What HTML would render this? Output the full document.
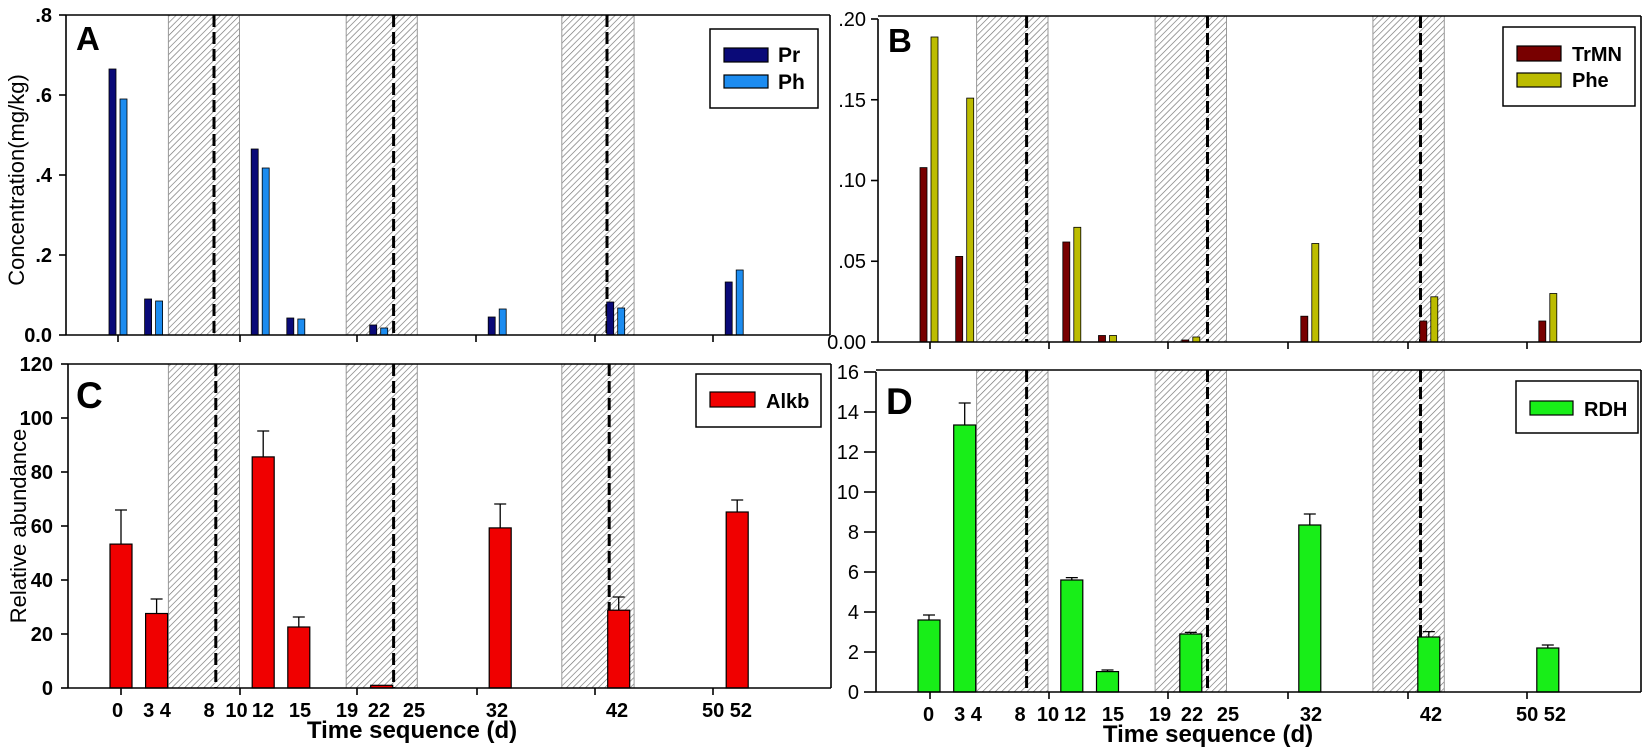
<!DOCTYPE html>
<html><head><meta charset="utf-8"><style>
body{margin:0;background:#fff;}
svg{display:block;font-family:"Liberation Sans",Arial,sans-serif;}
.b{font-weight:bold;}
</style></head><body>
<svg width="1650" height="749" viewBox="0 0 1650 749" xmlns="http://www.w3.org/2000/svg">
<defs>
<pattern id="h" patternUnits="userSpaceOnUse" width="4.5" height="4.5" patternTransform="rotate(45)">
<line x1="0" y1="0" x2="0" y2="4.5" stroke="#707070" stroke-width="1.3"/>
</pattern>
</defs>
<rect width="1650" height="749" fill="#fff"/>

<!-- ============ PANEL A ============ -->
<g>
<rect x="168.4" y="15" width="71.1" height="320" fill="url(#h)" stroke="#999" stroke-width="1"/>
<rect x="346.2" y="15" width="71.1" height="320" fill="url(#h)" stroke="#999" stroke-width="1"/>
<rect x="561.8" y="15" width="72.3" height="320" fill="url(#h)" stroke="#999" stroke-width="1"/>
<g stroke="#000" stroke-width="3" stroke-dasharray="12,5">
<line x1="214" y1="15" x2="214" y2="335"/><line x1="393.6" y1="15" x2="393.6" y2="335"/><line x1="607" y1="15" x2="607" y2="335"/>
</g>
<g stroke="#000" stroke-width="0.8">
<g fill="#0a0a78">
<rect x="109" y="69" width="7" height="266"/><rect x="144.6" y="299" width="7" height="36"/>
<rect x="251.2" y="149" width="7" height="186"/><rect x="286.8" y="318" width="7" height="17"/>
<rect x="369.7" y="325" width="7" height="10"/><rect x="488.2" y="317" width="7" height="18"/>
<rect x="606.7" y="302" width="7" height="33"/><rect x="725.2" y="282" width="7" height="53"/>
</g>
<g fill="#1c8cf0">
<rect x="120" y="99" width="7" height="236"/><rect x="155.6" y="301" width="7" height="34"/>
<rect x="262.2" y="168" width="7" height="167"/><rect x="297.8" y="319" width="7" height="16"/>
<rect x="380.7" y="328" width="7" height="7"/><rect x="499.2" y="309" width="7" height="26"/>
<rect x="617.7" y="308" width="7" height="27"/><rect x="736.2" y="270" width="7" height="65"/>
</g>
</g>
<g stroke="#000" stroke-width="1.6" fill="none">
<line x1="66" y1="15" x2="830" y2="15"/><line x1="830" y1="15" x2="830" y2="335"/>
<line x1="66" y1="15" x2="66" y2="335"/><line x1="66" y1="335" x2="830" y2="335"/>
<line x1="59" y1="15" x2="66" y2="15"/><line x1="59" y1="95" x2="66" y2="95"/><line x1="59" y1="175" x2="66" y2="175"/><line x1="59" y1="255" x2="66" y2="255"/><line x1="59" y1="335" x2="66" y2="335"/>
<line x1="118" y1="335" x2="118" y2="342"/><line x1="240" y1="335" x2="240" y2="342"/><line x1="357" y1="335" x2="357" y2="342"/><line x1="476" y1="335" x2="476" y2="342"/><line x1="595" y1="335" x2="595" y2="342"/><line x1="713" y1="335" x2="713" y2="342"/>
</g>
<g class="b" font-size="20" text-anchor="end">
<text x="52" y="22">.8</text><text x="52" y="102">.6</text><text x="52" y="182">.4</text><text x="52" y="262">.2</text><text x="52" y="342">0.0</text>
</g>
<text x="18" y="180" font-size="22" text-anchor="middle" transform="rotate(-90 18 180)" dominant-baseline="middle">Concentration(mg/kg)</text>
<text x="76" y="50" class="b" font-size="33">A</text>
<rect x="710" y="29" width="108" height="79" fill="#fff" stroke="#000" stroke-width="1.5"/>
<rect x="724" y="48" width="44" height="14" fill="#0a0a78" stroke="#000" stroke-width="1.2"/>
<rect x="724" y="75" width="44" height="13" fill="#1c8cf0" stroke="#000" stroke-width="1.2"/>
<text x="778" y="62" class="b" font-size="21">Pr</text>
<text x="778" y="89" class="b" font-size="21">Ph</text>
</g>

<!-- ============ PANEL B ============ -->
<g>
<rect x="976.6" y="16" width="71.4" height="326" fill="url(#h)" stroke="#999" stroke-width="1"/>
<rect x="1155.1" y="16" width="71.4" height="326" fill="url(#h)" stroke="#999" stroke-width="1"/>
<rect x="1372.9" y="16" width="71.4" height="326" fill="url(#h)" stroke="#999" stroke-width="1"/>
<g stroke="#000" stroke-width="3" stroke-dasharray="12,5">
<line x1="1026.6" y1="16" x2="1026.6" y2="342"/><line x1="1207.5" y1="16" x2="1207.5" y2="342"/><line x1="1420.5" y1="16" x2="1420.5" y2="342"/>
</g>
<g stroke="#000" stroke-width="0.8">
<g fill="#780000">
<rect x="920" y="167.6" width="7" height="174.4"/><rect x="955.7" y="256.4" width="7" height="85.6"/>
<rect x="1062.8" y="242" width="7" height="100"/><rect x="1098.5" y="335.5" width="7" height="6.5"/>
<rect x="1181.8" y="340" width="7" height="2"/><rect x="1300.8" y="316.2" width="7" height="25.8"/>
<rect x="1419.8" y="321" width="7" height="21"/><rect x="1538.8" y="321" width="7" height="21"/>
</g>
<g fill="#bcbc00">
<rect x="931" y="37" width="7" height="305"/><rect x="966.7" y="98.1" width="7" height="243.9"/>
<rect x="1073.8" y="227.3" width="7" height="114.7"/><rect x="1109.5" y="335.5" width="7" height="6.5"/>
<rect x="1192.8" y="337" width="7" height="5"/><rect x="1311.8" y="243.5" width="7" height="98.5"/>
<rect x="1430.8" y="296.8" width="7" height="45.2"/><rect x="1549.8" y="293.5" width="7" height="48.5"/>
</g>
</g>
<g stroke="#000" stroke-width="1.6" fill="none">
<line x1="878" y1="16" x2="1641" y2="16"/><line x1="1641" y1="16" x2="1641" y2="342"/>
<line x1="878" y1="19" x2="878" y2="342"/><line x1="878" y1="342" x2="1641" y2="342"/>
<line x1="871" y1="19" x2="878" y2="19"/><line x1="871" y1="99.75" x2="878" y2="99.75"/><line x1="871" y1="180.5" x2="878" y2="180.5"/><line x1="871" y1="261.25" x2="878" y2="261.25"/><line x1="871" y1="342" x2="878" y2="342"/>
<line x1="930" y1="342" x2="930" y2="349"/><line x1="1049" y1="342" x2="1049" y2="349"/><line x1="1168" y1="342" x2="1168" y2="349"/><line x1="1288" y1="342" x2="1288" y2="349"/><line x1="1408" y1="342" x2="1408" y2="349"/><line x1="1527" y1="342" x2="1527" y2="349"/>
</g>
<g font-size="20" text-anchor="end">
<text x="866" y="26">.20</text><text x="866" y="107">.15</text><text x="866" y="187">.10</text><text x="866" y="268">.05</text><text x="866" y="349">0.00</text>
</g>
<text x="888" y="52" class="b" font-size="33">B</text>
<rect x="1503" y="27" width="132" height="79" fill="#fff" stroke="#000" stroke-width="1.5"/>
<rect x="1517" y="46" width="44" height="15" fill="#780000" stroke="#000" stroke-width="1.2"/>
<rect x="1517" y="73" width="44" height="14" fill="#bcbc00" stroke="#000" stroke-width="1.2"/>
<text x="1572" y="61" class="b" font-size="20">TrMN</text>
<text x="1572" y="87" class="b" font-size="20">Phe</text>
</g>

<!-- ============ PANEL C ============ -->
<g>
<rect x="168.4" y="364" width="71.1" height="324" fill="url(#h)" stroke="#999" stroke-width="1"/>
<rect x="346.2" y="364" width="71.1" height="324" fill="url(#h)" stroke="#999" stroke-width="1"/>
<rect x="561.8" y="364" width="72.3" height="324" fill="url(#h)" stroke="#999" stroke-width="1"/>
<g stroke="#000" stroke-width="3" stroke-dasharray="12,5">
<line x1="215.8" y1="364" x2="215.8" y2="688"/><line x1="393.6" y1="364" x2="393.6" y2="688"/><line x1="609.2" y1="364" x2="609.2" y2="688"/>
</g>
<g stroke="#000" stroke-width="1.3">
<path d="M121 544V510M115 510H127M156.6 613V599M150.6 599H162.6M263.2 457V431M257.2 431H269.2M298.8 627V617M292.8 617H304.8M500.2 528V504M494.2 504H506.2M618.7 610V597M612.7 597H624.7M737.2 512V500M731.2 500H743.2" fill="none"/>
<g fill="#f00000" stroke-width="1.2">
<rect x="110" y="544.1" width="22" height="143.9"/><rect x="145.6" y="613.5" width="22" height="74.5"/>
<rect x="252.2" y="456.9" width="22" height="231.1"/><rect x="287.8" y="627" width="22" height="61"/>
<rect x="370.7" y="685.3" width="22" height="2.7"/><rect x="489.2" y="527.9" width="22" height="160.1"/>
<rect x="607.7" y="610.2" width="22" height="77.8"/><rect x="726.2" y="512" width="22" height="176"/>
</g>
</g>
<g stroke="#000" stroke-width="1.6" fill="none">
<line x1="68" y1="364" x2="831" y2="364"/><line x1="831" y1="364" x2="831" y2="688"/>
<line x1="68" y1="364" x2="68" y2="688"/><line x1="68" y1="688" x2="831" y2="688"/>
<line x1="61" y1="364" x2="68" y2="364"/><line x1="61" y1="418" x2="68" y2="418"/><line x1="61" y1="472" x2="68" y2="472"/><line x1="61" y1="526" x2="68" y2="526"/><line x1="61" y1="580" x2="68" y2="580"/><line x1="61" y1="634" x2="68" y2="634"/><line x1="61" y1="688" x2="68" y2="688"/>
<line x1="121" y1="688" x2="121" y2="695"/><line x1="240" y1="688" x2="240" y2="695"/><line x1="357" y1="688" x2="357" y2="695"/><line x1="477" y1="688" x2="477" y2="695"/><line x1="595" y1="688" x2="595" y2="695"/><line x1="713" y1="688" x2="713" y2="695"/>
</g>
<g class="b" font-size="20" text-anchor="end">
<text x="53" y="371">120</text><text x="53" y="425">100</text><text x="53" y="479">80</text><text x="53" y="533">60</text><text x="53" y="587">40</text><text x="53" y="641">20</text><text x="53" y="695">0</text>
</g>
<text x="20" y="526" font-size="22" text-anchor="middle" transform="rotate(-90 20 526)" dominant-baseline="middle">Relative abundance</text>
<text x="76" y="408" class="b" font-size="37">C</text>
<rect x="696" y="374" width="125" height="53" fill="#fff" stroke="#000" stroke-width="1.5"/>
<rect x="710" y="392" width="45" height="15" fill="#f00000" stroke="#000" stroke-width="1.2"/>
<text x="766" y="408" class="b" font-size="20">Alkb</text>
<g class="b" font-size="20" text-anchor="middle">
<text x="117.5" y="717">0</text><text x="157" y="717">3 4</text><text x="209" y="717">8</text><text x="236.5" y="717">10</text><text x="263" y="717">12</text><text x="300" y="717">15</text><text x="347" y="717">19</text><text x="379" y="717">22</text><text x="414" y="717">25</text><text x="497" y="717">32</text><text x="617" y="717">42</text><text x="727" y="717">50 52</text>
</g>
<text x="412" y="738" class="b" font-size="24" text-anchor="middle">Time sequence (d)</text>
</g>

<!-- ============ PANEL D ============ -->
<g>
<rect x="976.6" y="370" width="71.4" height="322" fill="url(#h)" stroke="#999" stroke-width="1"/>
<rect x="1155.1" y="370" width="71.4" height="322" fill="url(#h)" stroke="#999" stroke-width="1"/>
<rect x="1372.9" y="370" width="71.4" height="322" fill="url(#h)" stroke="#999" stroke-width="1"/>
<g stroke="#000" stroke-width="3" stroke-dasharray="12,5">
<line x1="1026.6" y1="370" x2="1026.6" y2="692"/><line x1="1207.5" y1="370" x2="1207.5" y2="692"/><line x1="1420.5" y1="370" x2="1420.5" y2="692"/>
</g>
<g stroke="#000" stroke-width="1.3">
<path d="M929 620V615M923 615H935M964.7 425V403M958.7 403H970.7M1071.8 580V577.6M1065.8 577.6H1077.8M1107.5 671.6V670M1101.5 670H1113.5M1190.8 634V632.4M1184.8 632.4H1196.8M1309.8 525V514M1303.8 514H1315.8M1428.8 637V631.6M1422.8 631.6H1434.8M1547.8 648V645M1541.8 645H1553.8" fill="none"/>
<g fill="#18ee18" stroke-width="1.2">
<rect x="918" y="620" width="22" height="72"/><rect x="953.7" y="425" width="22" height="267"/>
<rect x="1060.8" y="580" width="22" height="112"/><rect x="1096.5" y="671.6" width="22" height="20.4"/>
<rect x="1179.8" y="634" width="22" height="58"/><rect x="1298.8" y="525" width="22" height="167"/>
<rect x="1417.8" y="637" width="22" height="55"/><rect x="1536.8" y="648" width="22" height="44"/>
</g>
</g>
<g stroke="#000" stroke-width="1.6" fill="none">
<line x1="876" y1="370" x2="1641" y2="370"/><line x1="1641" y1="370" x2="1641" y2="692"/>
<line x1="876" y1="372" x2="876" y2="692"/><line x1="876" y1="692" x2="1641" y2="692"/>
<g><line x1="864" y1="372" x2="876" y2="372"/><line x1="864" y1="412" x2="876" y2="412"/><line x1="864" y1="452" x2="876" y2="452"/><line x1="864" y1="492" x2="876" y2="492"/><line x1="864" y1="532" x2="876" y2="532"/><line x1="864" y1="572" x2="876" y2="572"/><line x1="864" y1="612" x2="876" y2="612"/><line x1="864" y1="652" x2="876" y2="652"/><line x1="864" y1="692" x2="876" y2="692"/></g>
<line x1="930" y1="692" x2="930" y2="699"/><line x1="1049" y1="692" x2="1049" y2="699"/><line x1="1168" y1="692" x2="1168" y2="699"/><line x1="1288" y1="692" x2="1288" y2="699"/><line x1="1408" y1="692" x2="1408" y2="699"/><line x1="1527" y1="692" x2="1527" y2="699"/>
</g>
<g font-size="20" text-anchor="end">
<text x="859" y="379">16</text><text x="859" y="419">14</text><text x="859" y="459">12</text><text x="859" y="499">10</text><text x="859" y="539">8</text><text x="859" y="579">6</text><text x="859" y="619">4</text><text x="859" y="659">2</text><text x="859" y="699">0</text>
</g>
<text x="886" y="414" class="b" font-size="37">D</text>
<rect x="1516" y="381" width="122" height="52" fill="#fff" stroke="#000" stroke-width="1.5"/>
<rect x="1530" y="401" width="43" height="14" fill="#18ee18" stroke="#000" stroke-width="1.2"/>
<text x="1584" y="416" class="b" font-size="20">RDH</text>
<g class="b" font-size="20" text-anchor="middle">
<text x="928.5" y="721">0</text><text x="968" y="721">3 4</text><text x="1020" y="721">8</text><text x="1048" y="721">10</text><text x="1075" y="721">12</text><text x="1113" y="721">15</text><text x="1160" y="721">19</text><text x="1192" y="721">22</text><text x="1228" y="721">25</text><text x="1311" y="721">32</text><text x="1431" y="721">42</text><text x="1541" y="721">50 52</text>
</g>
<text x="1208" y="742" class="b" font-size="24" text-anchor="middle">Time sequence (d)</text>
</g>
</svg>
</body></html>
